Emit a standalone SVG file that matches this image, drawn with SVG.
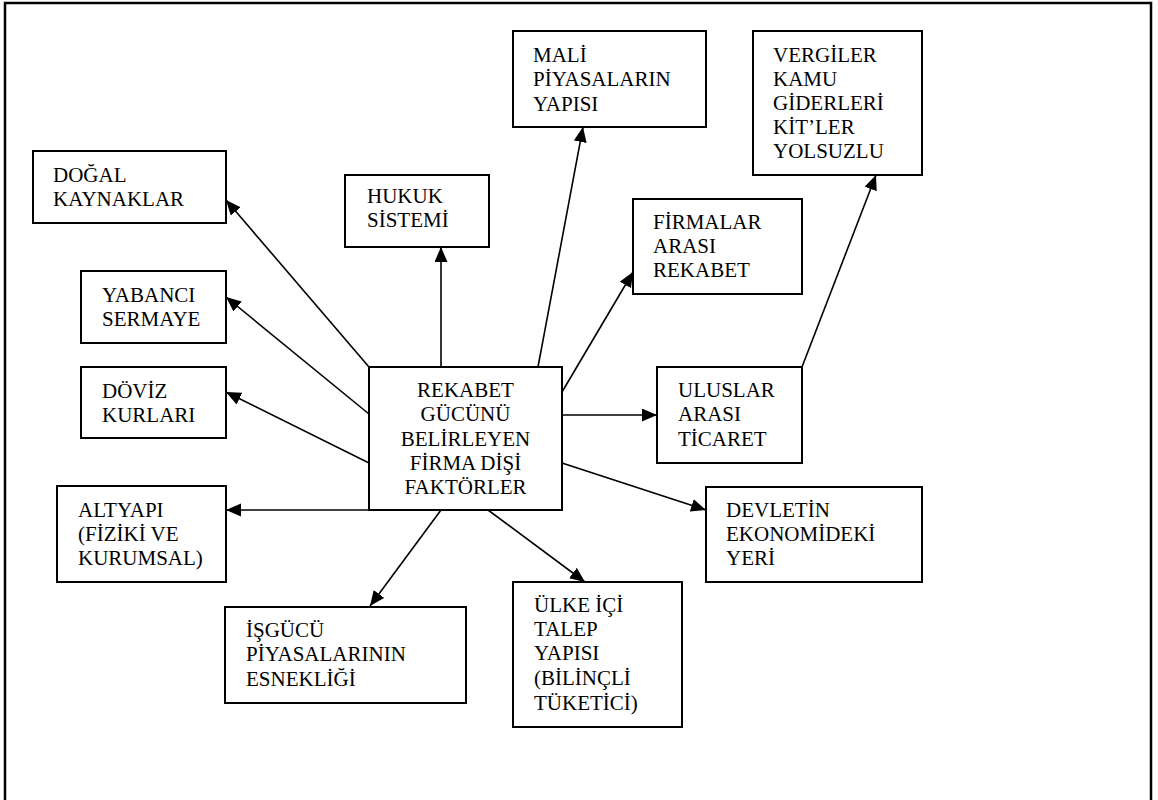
<svg xmlns="http://www.w3.org/2000/svg" width="1158" height="800" viewBox="0 0 1158 800">
<style>
.box{fill:#fff;stroke:#000;stroke-width:2}
.t{font-family:"Liberation Serif","Times New Roman",serif;font-size:21px;fill:#000}
.c{text-anchor:middle}
.ln{stroke:#000;stroke-width:1.6;fill:none;marker-end:url(#ah)}
</style>
<defs>
<marker id="ah" markerUnits="userSpaceOnUse" markerWidth="16" markerHeight="14" refX="15" refY="6.5" orient="auto">
<path d="M0,0 L15,6.5 L0,13 z" fill="#000"/>
</marker>
</defs>
<rect x="5" y="3" width="1146" height="820" fill="none" stroke="#000" stroke-width="2.5"/>
<g id="connectors">
<line class="ln" x1="369" y1="367" x2="226" y2="200"/>
<line class="ln" x1="369" y1="414" x2="226" y2="297"/>
<line class="ln" x1="369" y1="463" x2="226" y2="392"/>
<line class="ln" x1="369" y1="510" x2="226" y2="510"/>
<line class="ln" x1="441" y1="367" x2="441" y2="247"/>
<line class="ln" x1="538" y1="367" x2="583" y2="127"/>
<line class="ln" x1="562" y1="392" x2="633" y2="272"/>
<line class="ln" x1="562" y1="415" x2="657" y2="415"/>
<line class="ln" x1="802" y1="367" x2="876" y2="175"/>
<line class="ln" x1="562" y1="463" x2="706" y2="510"/>
<line class="ln" x1="441" y1="510" x2="370" y2="606"/>
<line class="ln" x1="488" y1="510" x2="585" y2="582"/>
</g>
<g id="center">
<rect class="box" x="369" y="367" width="193" height="143"/>
<text class="t c" x="465.5" y="397">REKABET</text>
<text class="t c" x="465.5" y="421">GÜCÜNÜ</text>
<text class="t c" x="465.5" y="446">BELİRLEYEN</text>
<text class="t c" x="465.5" y="470">FİRMA DİŞİ</text>
<text class="t c" x="465.5" y="494">FAKTÖRLER</text>
</g>
<g id="dogal">
<rect class="box" x="33" y="151" width="193" height="72"/>
<text class="t" x="53" y="182">DOĞAL</text>
<text class="t" x="53" y="206">KAYNAKLAR</text>
</g>
<g id="hukuk">
<rect class="box" x="345" y="175" width="144" height="72"/>
<text class="t" x="367" y="203">HUKUK</text>
<text class="t" x="367" y="227">SİSTEMİ</text>
</g>
<g id="mali">
<rect class="box" x="513" y="31" width="193" height="96"/>
<text class="t" x="533" y="62">MALİ</text>
<text class="t" x="533" y="86">PİYASALARIN</text>
<text class="t" x="533" y="111">YAPISI</text>
</g>
<g id="vergiler">
<rect class="box" x="753" y="31" width="169" height="144"/>
<text class="t" x="773" y="62">VERGİLER</text>
<text class="t" x="773" y="86">KAMU</text>
<text class="t" x="773" y="110">GİDERLERİ</text>
<text class="t" x="773" y="134">KİT’LER</text>
<text class="t" x="773" y="158">YOLSUZLU</text>
</g>
<g id="firmalar">
<rect class="box" x="633" y="199" width="169" height="95"/>
<text class="t" x="653" y="229">FİRMALAR</text>
<text class="t" x="653" y="253">ARASI</text>
<text class="t" x="653" y="277">REKABET</text>
</g>
<g id="uluslar">
<rect class="box" x="657" y="367" width="145" height="96"/>
<text class="t" x="678" y="397">ULUSLAR</text>
<text class="t" x="678" y="421">ARASI</text>
<text class="t" x="678" y="446">TİCARET</text>
</g>
<g id="yabanci">
<rect class="box" x="81" y="271" width="145" height="72"/>
<text class="t" x="102" y="302">YABANCI</text>
<text class="t" x="102" y="326">SERMAYE</text>
</g>
<g id="doviz">
<rect class="box" x="81" y="367" width="145" height="71"/>
<text class="t" x="102" y="398">DÖVİZ</text>
<text class="t" x="102" y="422">KURLARI</text>
</g>
<g id="altyapi">
<rect class="box" x="57" y="486" width="169" height="96"/>
<text class="t" x="78" y="517">ALTYAPI</text>
<text class="t" x="78" y="541">(FİZİKİ VE</text>
<text class="t" x="78" y="565">KURUMSAL)</text>
</g>
<g id="isgucu">
<rect class="box" x="225" y="607" width="241" height="96"/>
<text class="t" x="246" y="637">İŞGÜCÜ</text>
<text class="t" x="246" y="661">PİYASALARININ</text>
<text class="t" x="246" y="686">ESNEKLİĞİ</text>
</g>
<g id="ulke">
<rect class="box" x="513" y="582" width="169" height="145"/>
<text class="t" x="534" y="612">ÜLKE İÇİ</text>
<text class="t" x="534" y="636">TALEP</text>
<text class="t" x="534" y="660">YAPISI</text>
<text class="t" x="534" y="685">(BİLİNÇLİ</text>
<text class="t" x="534" y="710">TÜKETİCİ)</text>
</g>
<g id="devlet">
<rect class="box" x="706" y="487" width="216" height="95"/>
<text class="t" x="726" y="517">DEVLETİN</text>
<text class="t" x="726" y="541">EKONOMİDEKİ</text>
<text class="t" x="726" y="565">YERİ</text>
</g>
</svg>
